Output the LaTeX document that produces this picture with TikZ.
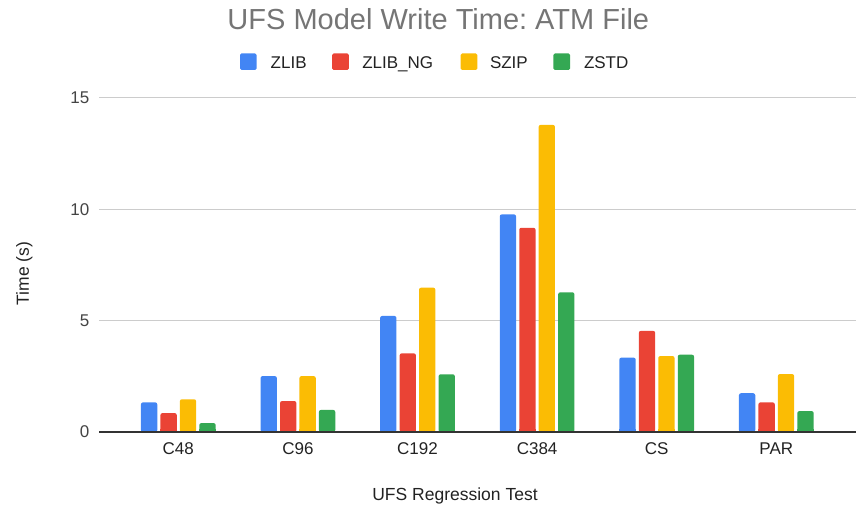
\documentclass[tikz,border=0pt]{standalone}
\usepackage{fontspec}
\setmainfont{Liberation Sans}
\frenchspacing
\definecolor{zblue}{HTML}{4285F4}
\definecolor{zred}{HTML}{EA4335}
\definecolor{zyellow}{HTML}{FBBC04}
\definecolor{zgreen}{HTML}{34A853}
\definecolor{gridgray}{HTML}{CCCCCC}
\definecolor{axisdark}{HTML}{333333}
\definecolor{titlegray}{HTML}{757575}
\definecolor{labelgray}{HTML}{444444}
\definecolor{textdark}{HTML}{222222}

% y = 0 s sits at height 73, one second is 22.27 units
\newcommand\chartbar[3]{% #1 centre x, #2 value, #3 colour
  \pgfmathsetmacro\bartop{73+22.27*#2}
  \fill[#3, rounded corners=2] ({#1-8.15},73) rectangle ({#1+8.15},\bartop);
  \fill[#3] ({#1-8.15},73) rectangle ({#1+8.15},76);
}

\begin{document}
\begin{tikzpicture}[x=1pt,y=1pt,
  every node/.style={inner sep=0pt, outer sep=0pt},
  charttitle/.style={font=\fontsize{29}{32}\selectfont, text=titlegray, anchor=base},
  legendkey/.style={minimum size=16.6pt, rounded corners=1.5pt},
  legendtext/.style={font=\fontsize{17}{20}\selectfont, text=textdark, anchor=base west},
  ticklabel/.style={font=\fontsize{17}{20}\selectfont, text=labelgray, anchor=base east},
  catlabel/.style={font=\fontsize{17}{20}\selectfont, text=textdark, anchor=base},
  axistitle/.style={font=\fontsize{17.5}{20}\selectfont, text=textdark},
  gridline/.style={draw=gridgray, line width=1pt},
  baseline/.style={draw=axisdark, line width=1.3pt}]
\useasboundingbox (0,0) rectangle (866,505);

% title and legend
\node[charttitle] (title) at (438.3,475.7) {UFS Model Write Time: ATM File};
\node[legendkey, fill=zblue]   (keyA) at (248.3,443.3) {};
\node[legendtext] (legA) at (270.7,436.7) {ZLIB};
\node[legendkey, fill=zred]    (keyB) at (340.5,443.3) {};
\node[legendtext] (legB) at (362.3,436.7) {ZLIB\_NG};
\node[legendkey, fill=zyellow] (keyC) at (469.0,443.3) {};
\node[legendtext] (legC) at (490.0,436.7) {SZIP};
\node[legendkey, fill=zgreen]  (keyD) at (561.7,443.3) {};
\node[legendtext] (legD) at (584.0,436.7) {ZSTD};

% grid and value labels
\foreach \v in {5,10,15}{
  \coordinate (gl\v) at (99,{73+22.27*\v});
  \coordinate (gr\v) at (856,{73+22.27*\v});
  \draw[gridline] (gl\v) -- (gr\v);
}
\foreach \v in {0,5,10,15}{
  \node[ticklabel] (tick\v) at (89.3,{67+22.27*\v}) {\v};
}

% bars, one group per test
\foreach \lab/\va/\vb/\vc/\vd [count=\i from 0] in
  {C48/1.33/0.85/1.47/0.40,
   C96/2.51/1.39/2.51/0.99,
   C192/5.21/3.53/6.48/2.59,
   C384/9.77/9.17/13.79/6.27,
   CS/3.34/4.54/3.41/3.47,
   PAR/1.74/1.33/2.60/0.94}{
  \pgfmathsetmacro\cx{178.3+119.6*\i}
  \chartbar{\cx-29.2}{\va}{zblue}
  \chartbar{\cx-9.7}{\vb}{zred}
  \chartbar{\cx+9.7}{\vc}{zyellow}
  \chartbar{\cx+29.2}{\vd}{zgreen}
  \node[catlabel] (cat\i) at (\cx,50) {\lab};
}

% zero axis
\coordinate (axL) at (99,73);
\coordinate (axR) at (856,73);
\draw[baseline] (axL) -- (axR);

% axis titles
\node[axistitle, anchor=base] (xtitle) at (455,4) {UFS Regression Test};
\node[axistitle, rotate=90] (ytitle) at (24.3,231.5) {Time (s)};
\end{tikzpicture}
\end{document}
